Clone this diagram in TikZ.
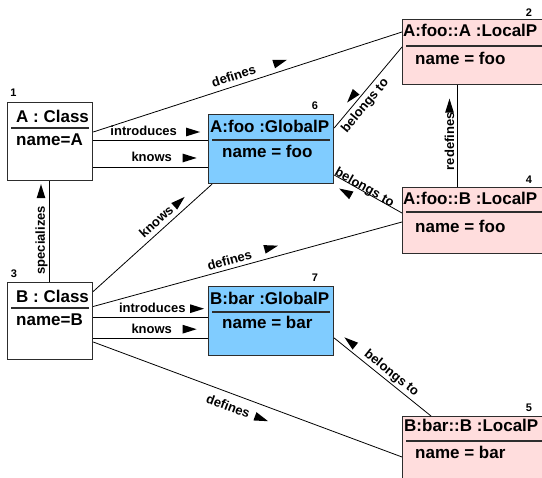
\documentclass[tikz,border=0pt]{standalone}
\usepackage{fontspec}
\setmainfont{Liberation Sans}
\usetikzlibrary{calc}
\definecolor{gpblue}{RGB}{128,204,255}
\definecolor{lppink}{RGB}{255,221,221}
\definecolor{bordergray}{RGB}{45,45,45}
\newcommand\arrowtriR{\tikz\fill[black] (0pt,0pt) -- (-14pt,4.4pt) -- (-14pt,-4.4pt) -- cycle;}
\newcommand\arrowtriL{\tikz\fill[black] (0pt,0pt) -- (14pt,4.4pt) -- (14pt,-4.4pt) -- cycle;}
\begin{document}
\begin{tikzpicture}[x=1pt,y=-1pt,
  box/.style={draw=bordergray, line width=1.2pt, rectangle, inner sep=0pt, anchor=north west},
  ttl/.style={font=\fontsize{17}{20}\selectfont\bfseries, inner sep=0pt, anchor=base west},
  num/.style={font=\fontsize{11}{13}\selectfont\bfseries, inner sep=0pt, anchor=base},
  uline/.style={draw=bordergray, line width=1.4pt},
  conn/.style={draw=black, line width=0.8pt},
  lbl/.style={font=\fontsize{13}{15}\selectfont\bfseries, inner sep=0pt, anchor=base},
  ahead/.style={inner sep=0pt, outer sep=0pt, anchor=center},
]
\useasboundingbox (0,0) rectangle (542,478);

% boxes
\node[box, minimum width=85pt, minimum height=78pt] (n1) at (7,102) {};
\node[box, minimum width=85pt, minimum height=77pt] (n3) at (7,282) {};
\node[box, fill=gpblue, minimum width=125pt, minimum height=69pt] (n6) at (208,114) {};
\node[box, fill=gpblue, minimum width=125pt, minimum height=69pt] (n7) at (208,286) {};
\node[box, fill=lppink, minimum width=145pt, minimum height=65pt] (n2) at (402,19) {};
\node[box, fill=lppink, minimum width=145pt, minimum height=66pt] (n4) at (402,187) {};
\node[box, fill=lppink, minimum width=145pt, minimum height=70pt] (n5) at (402,416) {};

% box contents
\node[ttl] (n1t) at ($(n1.north west)+(9,21)$) {A : Class};
\draw[uline] ($(n1.north west)+(4,26)$) -- ($(n1.north east)+(-4,26)$);
\node[ttl] (n1n) at ($(n1.north west)+(9,44)$) {name=A};
\node[num] (n1k) at ($(n1.north west)+(6.5,-5)$) {1};

\node[ttl] (n3t) at ($(n3.north west)+(9,21)$) {B : Class};
\draw[uline] ($(n3.north west)+(4,26)$) -- ($(n3.north east)+(-4,26)$);
\node[ttl] (n3n) at ($(n3.north west)+(9,44)$) {name=B};
\node[num] (n3k) at ($(n3.north west)+(7,-4)$) {3};

\node[ttl] (n6t) at ($(n6.north west)+(2,19)$) {A:foo :GlobalP};
\draw[uline] ($(n6.north west)+(4,26)$) -- ($(n6.north east)+(-4,26)$);
\node[ttl] (n6n) at ($(n6.north west)+(14,44)$) {name = foo};
\node[num] (n6k) at ($(n6.north west)+(107,-4)$) {6};

\node[ttl] (n7t) at ($(n7.north west)+(2,19)$) {B:bar :GlobalP};
\draw[uline] ($(n7.north west)+(4,26)$) -- ($(n7.north east)+(-4,26)$);
\node[ttl] (n7n) at ($(n7.north west)+(14,43)$) {name = bar};
\node[num] (n7k) at ($(n7.north west)+(107,-4.3)$) {7};

\node[ttl] (n2t) at ($(n2.north west)+(1,18)$) {A:foo::A :LocalP};
\draw[uline] ($(n2.north west)+(4,27)$) -- ($(n2.north east)+(-4,27)$);
\node[ttl] (n2n) at ($(n2.north west)+(13,46)$) {name = foo};
\node[num] (n2k) at ($(n2.north west)+(127,-2.3)$) {2};

\node[ttl] (n4t) at ($(n4.north west)+(1,18)$) {A:foo::B :LocalP};
\draw[uline] ($(n4.north west)+(4,25)$) -- ($(n4.north east)+(-4,25)$);
\node[ttl] (n4n) at ($(n4.north west)+(13,46)$) {name = foo};
\node[num] (n4k) at ($(n4.north west)+(127,-3)$) {4};

\node[ttl] (n5t) at ($(n5.north west)+(2,16)$) {B:bar::B :LocalP};
\draw[uline] ($(n5.north west)+(4,25)$) -- ($(n5.north east)+(-4,25)$);
\node[ttl] (n5n) at ($(n5.north west)+(13,42.5)$) {name = bar};
\node[num] (n5k) at ($(n5.north west)+(127,-4.3)$) {5};

% connectors
\draw[conn] ($(n1.north east)+(0,38)$) -- ($(n6.north west)+(0,26)$)
  node[lbl, sloped, pos=0.44, yshift=4pt] (l1) {introduces}
  node[ahead, sloped, pos=0.87, yshift=8pt] (a1) {\arrowtriR};
\draw[conn] ($(n1.north east)+(0,65)$) -- ($(n6.north west)+(0,53)$)
  node[lbl, sloped, pos=0.51, yshift=5pt] (l2) {knows}
  node[ahead, sloped, pos=0.84, yshift=9pt] (a2) {\arrowtriR};
\draw[conn] ($(n1.north east)+(0,30)$) -- ($(n2.north west)+(0,13)$)
  node[lbl, sloped, pos=0.465, yshift=5.5pt] (l3) {defines}
  node[ahead, sloped, pos=0.615, yshift=9pt] (a3) {\arrowtriR};
\draw[conn] ($(n6.north east)+(0,14)$) -- ($(n2.north west)+(0,28)$)
  node[lbl, sloped, pos=0.35, yshift=-13pt] (l4) {belongs to}
  node[ahead, sloped, pos=0.33, yshift=6.4pt] (a4) {\arrowtriL};
\draw[conn] ($(n6.north east)+(0,61)$) -- ($(n4.north west)+(0,26)$)
  node[lbl, sloped, pos=0.42, yshift=0pt] (l4b) {belongs to}
  node[ahead, sloped, pos=0.23, yshift=-9.4pt] (a4b) {\arrowtriL};
\draw[conn] ($(n4.north west)+(55,0)$) -- ($(n2.south west)+(55,0)$);
\node[lbl, rotate=90] (l5) at ($(n2.south west)+(52,56)$) {redefines};
\node[ahead, rotate=90] (a5) at ($(n2.south west)+(47.5,20.5)$) {\arrowtriR};
\draw[conn] ($(n3.north west)+(42,0)$) -- ($(n1.south west)+(42,0)$);
\node[lbl, rotate=90] (l6) at ($(n1.south west)+(37.8,59)$) {specializes};
\node[ahead, rotate=90] (a6) at ($(n1.south west)+(34,10)$) {\arrowtriR};
\draw[conn] ($(n3.north east)+(0,9.5)$) -- ($(n6.south west)+(4,0)$)
  node[lbl, sloped, pos=0.585, yshift=5.3pt] (l7) {knows}
  node[ahead, sloped, pos=0.776, yshift=8.9pt] (a7) {\arrowtriR};
\draw[conn] ($(n3.north east)+(0,24.5)$) -- ($(n4.north west)+(0,35)$)
  node[lbl, sloped, pos=0.449, yshift=4.3pt] (l8) {defines}
  node[ahead, sloped, pos=0.585, yshift=9.9pt] (a8) {\arrowtriR};
\draw[conn] ($(n3.north east)+(0,35)$) -- ($(n7.north west)+(0,31)$)
  node[lbl, sloped, pos=0.515, yshift=4pt] (l9) {introduces}
  node[ahead, sloped, pos=0.905, yshift=8.3pt] (a9) {\arrowtriR};
\draw[conn] ($(n3.north east)+(0,56)$) -- ($(n7.north west)+(0,52)$)
  node[lbl, sloped, pos=0.51, yshift=4pt] (l10) {knows}
  node[ahead, sloped, pos=0.84, yshift=8.8pt] (a10) {\arrowtriR};
\draw[conn] ($(n7.north east)+(0,52)$) -- ($(n5.north west)+(29,0)$)
  node[lbl, sloped, pos=0.536, yshift=5pt] (l11) {belongs to}
  node[ahead, sloped, pos=0.117, yshift=6.9pt] (a11) {\arrowtriL};
\draw[conn] ($(n3.north east)+(0,60)$) -- ($(n5.north west)+(0,41)$)
  node[lbl, sloped, pos=0.452, yshift=-17.5pt] (l12) {defines}
  node[ahead, sloped, pos=0.56, yshift=-13.2pt] (a12) {\arrowtriR};
\end{tikzpicture}
\end{document}
